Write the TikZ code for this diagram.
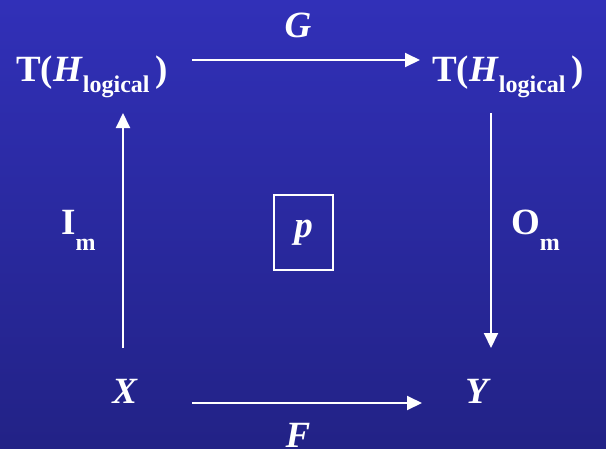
\documentclass[tikz,border=0pt]{standalone}
\usepackage{fontspec}
\setmainfont{Liberation Serif}
\usetikzlibrary{arrows.meta,calc}
\definecolor{bgtop}{RGB}{49,48,184}
\definecolor{bgbot}{RGB}{34,34,134}
\newcommand{\subtxt}[1]{\raisebox{-0.3em}{\fontsize{24}{24}\selectfont #1}}
\newcommand{\subm}[1]{\raisebox{-0.45em}{\fontsize{24}{24}\selectfont #1}}
\begin{document}
\begin{tikzpicture}[x=1pt,y=-1pt,
  lbl/.style={text=white,font=\fontsize{37}{40}\selectfont\bfseries,inner sep=0pt},
  arr/.style={draw=white,line width=2pt,-{Triangle[length=15pt,width=14pt]}},
  pbox/.style={draw=white,line width=1.6pt,minimum width=59pt,minimum height=75pt,inner sep=0pt}]
\fill[top color=bgtop,bottom color=bgbot] (0,0) rectangle (606,448);
\useasboundingbox (0,0) rectangle (606,448);
\node[lbl,anchor=base west] (TL) at (16,81) {T(\textit{H}\subtxt{logical}\,)};
\node[lbl,anchor=base west] (TR) at (432,81) {T(\textit{H}\subtxt{logical}\,)};
\node[lbl,anchor=base] (X) at (125,403) {\textit{X}};
\node[lbl,anchor=base] (Y) at (478,403) {\textit{Y}};
\node[lbl,anchor=base] (G) at (298,37) {\textit{G}};
\node[lbl,anchor=base] (F) at (298,447) {\textit{F}};
\node[lbl,anchor=base west] (Im) at (61,234) {I\subm{m}};
\node[lbl,anchor=base west] (Om) at (511,234) {O\subm{m}};
\node[lbl,pbox] (P) at (303.5,232.5) {\textit{p}};
\draw[arr] ($(TL.base west)+(176,-21)$) -- ($(TR.base west)+(-12,-21)$);
\draw[arr] ($(X.base)+(67,0)$) -- ($(Y.base)+(-56,0)$);
\draw[arr] ($(X.base)+(-2,-55)$) -- ($(TL.base west)+(107,32)$);
\draw[arr] ($(TR.base west)+(59,32)$) -- ($(Y.base)+(13,-55)$);
\end{tikzpicture}
\end{document}
